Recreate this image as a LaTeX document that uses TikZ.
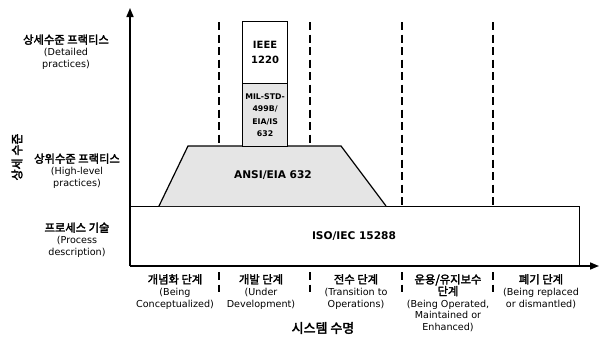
\documentclass[tikz,border=0pt]{standalone}
\usepackage{fontspec}
\setmainfont{DejaVu Sans}
\newfontfamily\kr{Noto Sans CJK KR}[FakeBold=2.6]
\newcommand\krh[1]{{\kr\fontsize{11.3}{11.8}\selectfont #1}}
\usetikzlibrary{arrows.meta}
\begin{document}
\begin{tikzpicture}[x=1pt,y=-1pt,
  axis/.style={line width=1.6pt,-{Triangle[length=9pt,width=7pt]}},
  box/.style={draw,line width=1.2pt},
  stip/.style={box,fill=black!10},
  phase/.style={line width=1.4pt,dash pattern=on 8pt off 4.5pt},
  lbl/.style={align=center,font=\fontsize{9.6}{11.8}\selectfont,inner sep=0pt},
  boxlbl/.style={align=center,font=\fontsize{10.6}{12}\selectfont\bfseries,inner sep=0pt},
]
\useasboundingbox (0,0) rectangle (600,340);
% axes
\coordinate (O) at (130,266);
\coordinate (ytop) at (130,8);
\coordinate (xend) at (599,266);
\draw[axis] (O) -- (ytop);
\draw[axis] (O) -- (xend);
% phase separators
\foreach \x/\yb in {219/145,310/145,402/205,493/205}{
  \draw[phase] (\x,22) -- (\x,\yb);
  \draw[phase] (\x,272) -- (\x,292);
}
% ISO box
\node[box,minimum width=449pt,minimum height=59pt,anchor=north west,inner sep=0pt] (iso) at (130,206) {};
\node[boxlbl] (isol) at (354,236) {ISO/IEC 15288};
% trapezoid
\draw[stip] (159,206) coordinate (ta) -- (188,146) coordinate (tb) -- (341,146) coordinate (tc) -- (386,206) coordinate (td);
\node[boxlbl] (ansi) at (273,175) {ANSI/EIA 632};
% column
\node[box,fill=white,minimum width=45pt,minimum height=62pt,anchor=north west,inner sep=0pt] (ieee) at (242,21) {};
\node[stip,minimum width=45pt,minimum height=63pt,anchor=north west,inner sep=0pt] (mil) at (242,83) {};
\node[boxlbl,font=\fontsize{10}{15}\selectfont\bfseries] at (ieee.center) {IEEE\\1220};
\node[boxlbl,font=\fontsize{7.8}{12.5}\selectfont\bfseries] at (mil.center) {MIL-STD-\\499B/\\EIA/IS\\632};
% left labels
\node[lbl] (det) at (66,52) {\krh{상세수준 프랙티스}\\(Detailed\\practices)};
\node[lbl] (high) at (77,171) {\krh{상위수준 프랙티스}\\(High-level\\practices)};
\node[lbl] (proc) at (77,240) {\krh{프로세스 기술}\\(Process\\description)};
\node[lbl,rotate=90,font=\fontsize{12}{14}\selectfont] (ylab) at (17,157) {\kr 상세 수준};
% bottom labels
\node[lbl,anchor=north] (p1) at (175,274) {\krh{개념화 단계}\\(Being\\Conceptualized)};
\node[lbl,anchor=north] (p2) at (261,274) {\krh{개발 단계}\\(Under\\Development)};
\node[lbl,anchor=north] (p3) at (356,274) {\krh{전수 단계}\\(Transition to\\Operations)};
\node[lbl,anchor=north] (p4) at (448,274) {\krh{운용/유지보수}\\\krh{단계}\\(Being Operated,\\Maintained or\\Enhanced)};
\node[lbl,anchor=north] (p5) at (541,274) {\krh{폐기 단계}\\(Being replaced\\or dismantled)};
\node[lbl,font=\fontsize{13}{14}\selectfont] (xlab) at (323,328) {\kr 시스템 수명};
\end{tikzpicture}
\end{document}
